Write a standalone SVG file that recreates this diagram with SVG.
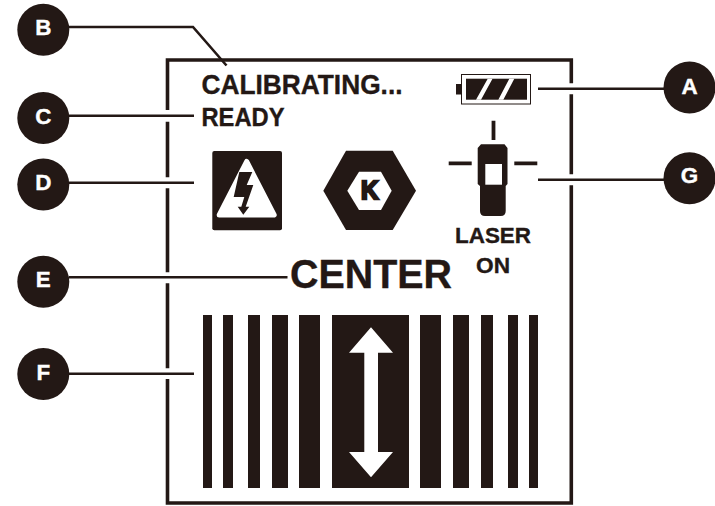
<svg xmlns="http://www.w3.org/2000/svg" width="715" height="506" viewBox="0 0 715 506">
<style>
.k{fill:#231815}
.w{fill:#fff}
.ln{fill:none;stroke:#231815;stroke-width:2.6}
.fr{fill:none;stroke:#231815;stroke-width:3.6;stroke-linecap:butt}
.t{font-family:"Liberation Sans",Arial,sans-serif;font-weight:700;fill:#231815;stroke:#231815;stroke-width:.35}
.c{font-family:"Liberation Sans",Arial,sans-serif;font-weight:700;fill:#fff;stroke:#fff;stroke-width:.4;font-size:22.4px;text-anchor:middle}
</style>
<rect width="715" height="506" fill="#fff"/>
<g id="display-frame">
<path class="fr" d="M167.5 110V60H571.3V83.3M571.3 94.3V174.3M571.3 185.3V503H167.5V379M167.5 368.3V283.3M167.5 272.3V188.3M167.5 177.3V121.7"/>
</g>
<g id="connectors">
<path class="ln" d="M69 27H193L226.5 65.5"/>
<path class="ln" d="M69 115.8H194"/>
<path class="ln" d="M69 182.7H194"/>
<path class="ln" d="M69 277.3H287.5"/>
<path class="ln" d="M69 373.7H194"/>
<path class="ln" d="M538 88.7H665"/>
<path class="ln" d="M538 179.7H665"/>
</g>
<g id="node-a"><circle class="k" cx="689.5" cy="87.5" r="26"/><text class="c" x="689.5" y="94">A</text></g>
<g id="node-b"><circle class="k" cx="43.3" cy="29.8" r="26"/><text class="c" x="43.3" y="35.3">B</text></g>
<g id="node-c"><circle class="k" cx="43.3" cy="118" r="26"/><text class="c" x="43.3" y="123.5">C</text></g>
<g id="node-d"><circle class="k" cx="43.3" cy="184.5" r="26"/><text class="c" x="43.3" y="190">D</text></g>
<g id="node-e"><circle class="k" cx="43.3" cy="281.8" r="26"/><text class="c" x="43.3" y="287.3">E</text></g>
<g id="node-f"><circle class="k" cx="43.3" cy="374" r="26"/><text class="c" x="43.3" y="380">F</text></g>
<g id="node-g"><circle class="k" cx="689.5" cy="178.3" r="26"/><text class="c" x="689.5" y="183">G</text></g>
<g id="status-text">
<text class="t" x="201.5" y="93.5" font-size="27.4" textLength="201" lengthAdjust="spacingAndGlyphs">CALIBRATING...</text>
<text class="t" x="201.5" y="125.5" font-size="26" textLength="83" lengthAdjust="spacingAndGlyphs">READY</text>
<text class="t" x="290" y="287.5" font-size="40.5" textLength="162" lengthAdjust="spacingAndGlyphs">CENTER</text>
<text class="t" x="455" y="242.7" font-size="22" textLength="76" lengthAdjust="spacingAndGlyphs">LASER</text>
<text class="t" x="476" y="272.7" font-size="22" textLength="34" lengthAdjust="spacingAndGlyphs">ON</text>
</g>
<g id="battery">
<rect x="461.5" y="74.5" width="69" height="29.5" fill="#fff" stroke="#231815" stroke-width="1"/>
<rect class="k" x="456" y="84" width="5.5" height="10.5"/>
<rect class="k" x="466" y="78.7" width="61" height="21"/>
<path class="w" d="M487.7 78.7H492.5L481 99.7H476ZM509.3 78.7H514.3L503.3 99.7H498.3Z"/>
</g>
<g id="warning-icon">
<rect class="k" x="212.3" y="151" width="69.7" height="79.3" rx="2"/>
<path class="w" d="M246.7 161.4L274.2 215H219.2Z" stroke="#fff" stroke-width="5" stroke-linejoin="round"/>
<path class="k" d="M239.3 172H252.3L246.7 185H253.3L245.7 206.7H249.3L243.3 214.7L237.7 206.7H241.3L244.3 197H233.7Z"/>
</g>
<g id="hex-icon">
<path class="k" d="M323.3 190.7L346 150.7H392.7L416 190.7L392.7 230H346Z"/>
<path class="w" d="M347.3 190.7L359 171.7H381L391.7 190.7L381 210H359Z"/>
<text class="t" x="361" y="199.3" font-size="26" textLength="17.5" lengthAdjust="spacingAndGlyphs" style="stroke-width:2.4">K</text>
</g>
<g id="laser-icon">
<path class="k" d="M491.6 120.7h3.8V140h-3.8zM448.7 161.4h23v3.8h-23zM514.3 161.4h23v3.8h-23z"/>
<path class="k" d="M481 144.3H504.5L507.5 148V184L505.7 186V211Q505.7 216 500.7 216H485Q480 216 480 211V186L477.7 184V148Z"/>
<rect class="w" x="485.3" y="164" width="16.7" height="20.7"/>
</g>
<g id="bar-graph">
<path class="k" d="M203 315h9v173h-9zM223 315h10v173h-10zM248 315h12v173h-12zM272 315h16v173h-16zM299 315h21v173h-21zM332 315h77v173h-77zM420 315h21v173h-21zM453 315h16v173h-16zM481 315h12v173h-12zM508 315h10v173h-10zM529 315h9v173h-9z"/>
<path class="w" d="M371 327.3L393 352.7H378V452H393L371 477.3L349 452H364.3V352.7H349Z"/>
</g>
</svg>
